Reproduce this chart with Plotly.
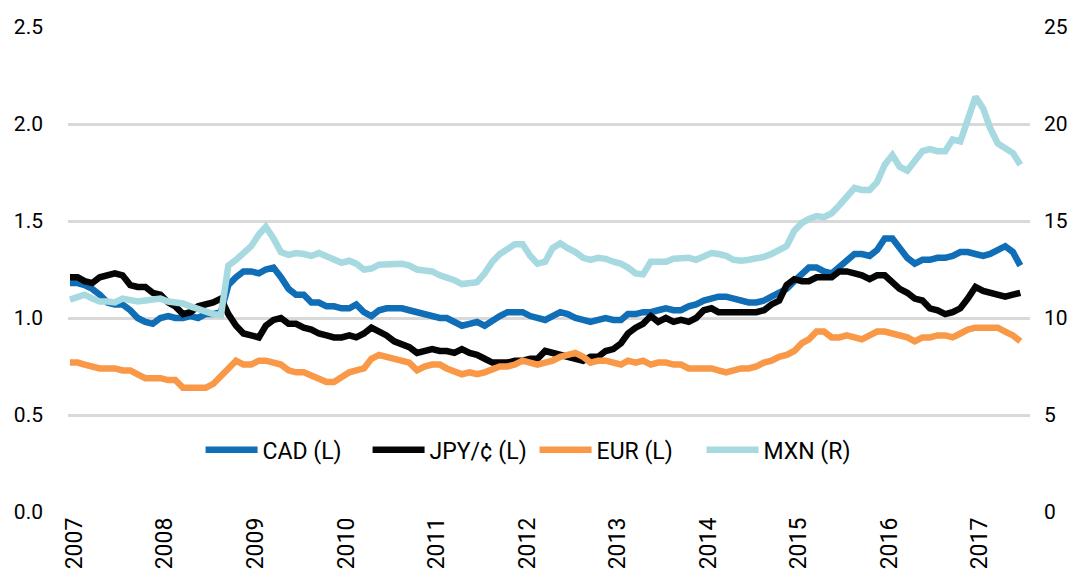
import pandas as pd
import plotly.graph_objects as go

months = pd.date_range("2007-01-01", periods=127, freq="MS")
years = [str(y) for y in range(2007, 2018)]
year_ticks = [f"{y}-01-19" for y in years]

cad = [1.18, 1.18, 1.17, 1.15, 1.12, 1.08, 1.07, 1.07, 1.04, 1.00, 0.98, 0.97,
       1.00, 1.01, 1.00, 1.00, 1.01, 1.00, 1.02, 1.02, 1.03, 1.17, 1.21, 1.24,
       1.24, 1.23, 1.25, 1.26, 1.21, 1.15, 1.12, 1.12, 1.08, 1.08, 1.06, 1.06,
       1.05, 1.05, 1.07, 1.03, 1.01, 1.04, 1.05, 1.05, 1.05, 1.04, 1.03, 1.02,
       1.01, 1.00, 1.00, 0.98, 0.96, 0.97, 0.98, 0.96, 0.99, 1.01, 1.03, 1.03,
       1.03, 1.01, 1.00, 0.99, 1.01, 1.03, 1.02, 1.00, 0.99, 0.98, 0.99, 1.00,
       0.99, 0.99, 1.02, 1.02, 1.03, 1.03, 1.04, 1.05, 1.04, 1.04, 1.06, 1.07,
       1.09, 1.10, 1.11, 1.11, 1.10, 1.09, 1.08, 1.08, 1.09, 1.11, 1.13, 1.15,
       1.19, 1.23, 1.26, 1.26, 1.24, 1.23, 1.26, 1.30, 1.33, 1.33, 1.32, 1.35,
       1.41, 1.41, 1.36, 1.31, 1.28, 1.30, 1.30, 1.31, 1.31, 1.32, 1.34, 1.34,
       1.33, 1.32, 1.33, 1.35, 1.37, 1.34, 1.27]

jpy = [1.21, 1.21, 1.19, 1.18, 1.21, 1.22, 1.23, 1.22, 1.17, 1.16, 1.16, 1.13,
       1.12, 1.08, 1.06, 1.02, 1.03, 1.06, 1.07, 1.08, 1.10, 1.02, 0.96, 0.92,
       0.91, 0.90, 0.96, 0.99, 1.00, 0.97, 0.97, 0.95, 0.94, 0.92, 0.91, 0.90,
       0.90, 0.91, 0.90, 0.92, 0.95, 0.93, 0.91, 0.88, 0.86, 0.85, 0.82, 0.83,
       0.84, 0.83, 0.83, 0.82, 0.84, 0.82, 0.81, 0.79, 0.77, 0.77, 0.77, 0.78,
       0.78, 0.79, 0.79, 0.83, 0.82, 0.81, 0.80, 0.79, 0.78, 0.80, 0.80, 0.83,
       0.84, 0.87, 0.92, 0.95, 0.97, 1.01, 0.98, 1.00, 0.98, 0.99, 0.98, 1.00,
       1.04, 1.05, 1.03, 1.03, 1.03, 1.03, 1.03, 1.03, 1.04, 1.07, 1.09, 1.17,
       1.20, 1.19, 1.19, 1.21, 1.21, 1.21, 1.24, 1.24, 1.23, 1.22, 1.20, 1.22,
       1.22, 1.18, 1.15, 1.13, 1.10, 1.09, 1.05, 1.04, 1.02, 1.03, 1.05, 1.10,
       1.16, 1.14, 1.13, 1.12, 1.11, 1.12, 1.13]

eur = [0.77, 0.77, 0.76, 0.75, 0.74, 0.74, 0.74, 0.73, 0.73, 0.71, 0.69, 0.69,
       0.69, 0.68, 0.68, 0.64, 0.64, 0.64, 0.64, 0.66, 0.70, 0.75, 0.78, 0.76,
       0.76, 0.78, 0.78, 0.77, 0.76, 0.73, 0.72, 0.72, 0.70, 0.69, 0.67, 0.67,
       0.70, 0.72, 0.73, 0.74, 0.79, 0.81, 0.80, 0.79, 0.78, 0.77, 0.73, 0.75,
       0.76, 0.76, 0.74, 0.72, 0.71, 0.72, 0.71, 0.72, 0.74, 0.75, 0.75, 0.76,
       0.78, 0.77, 0.76, 0.77, 0.78, 0.80, 0.81, 0.82, 0.80, 0.77, 0.78, 0.78,
       0.77, 0.76, 0.78, 0.77, 0.78, 0.76, 0.77, 0.77, 0.76, 0.76, 0.74, 0.74,
       0.74, 0.74, 0.73, 0.72, 0.73, 0.74, 0.74, 0.75, 0.77, 0.78, 0.80, 0.81,
       0.83, 0.87, 0.89, 0.93, 0.93, 0.90, 0.90, 0.91, 0.90, 0.89, 0.91, 0.93,
       0.93, 0.92, 0.91, 0.90, 0.88, 0.90, 0.90, 0.91, 0.91, 0.90, 0.92, 0.94,
       0.95, 0.95, 0.95, 0.95, 0.93, 0.91, 0.88]

mxn = [10.95, 11.1, 11.2, 11.0, 10.85, 10.85, 10.8, 11.0, 10.95, 10.85, 10.9, 10.95,
       11.0, 10.85, 10.8, 10.75, 10.6, 10.45, 10.3, 10.2, 10.15, 12.7, 13.0, 13.3,
       13.7, 14.3, 14.7, 14.1, 13.4, 13.25, 13.35, 13.3, 13.2, 13.35, 13.15, 13.0,
       12.85, 12.95, 12.8, 12.5, 12.55, 12.75, 12.75, 12.8, 12.8, 12.7, 12.5, 12.45,
       12.4, 12.2, 12.1, 11.95, 11.75, 11.8, 11.85, 12.3, 12.9, 13.3, 13.6, 13.8,
       13.8, 13.2, 12.8, 12.9, 13.6, 13.85, 13.6, 13.4, 13.1, 13.0, 13.1, 13.05,
       12.9, 12.8, 12.6, 12.3, 12.25, 12.9, 12.9, 12.9, 13.05, 13.1, 13.1, 13.0,
       13.2, 13.35, 13.3, 13.2, 13.0, 12.95, 13.0, 13.05, 13.15, 13.3, 13.55, 13.7,
       14.5, 14.9, 15.1, 15.25, 15.2, 15.4, 15.8, 16.3, 16.7, 16.6, 16.6, 17.0,
       17.9, 18.4, 17.8, 17.6, 18.1, 18.6, 18.7, 18.6, 18.6, 19.2, 19.1, 20.3,
       21.4, 20.8, 19.8, 19.0, 18.8, 18.5, 17.9]

series = [
    ("CAD (L)", cad, "#106EB7", "y"),
    ("JPY/¢ (L)", jpy, "#050505", "y"),
    ("EUR (L)", eur, "#F99847", "y"),
    ("MXN (R)", mxn, "#A6D9E0", "y2"),
]

fig = go.Figure()
for name, vals, color, ax in series:
    fig.add_trace(go.Scatter(x=months, y=vals, name=name, mode="lines",
                             line=dict(color=color, width=6.5), yaxis=ax))

fig.update_layout(
    width=1081, height=583,
    margin=dict(l=68, r=51, t=27, b=71),
    paper_bgcolor="white", plot_bgcolor="white",
    font=dict(family="Roboto", size=21, color="#000000"),
    showlegend=True,
    legend=dict(orientation="h", x=0.485, xanchor="center", y=0.128, yanchor="middle",
                font=dict(size=23), bgcolor="rgba(0,0,0,0)", itemwidth=52,
                entrywidth=100, entrywidthmode="pixels",
                traceorder="normal"),
    xaxis=dict(type="date", range=["2006-12-24", "2017-08-09"],
               tickvals=year_ticks, ticktext=years, tickangle=-90,
               tickfont=dict(size=23),
               showgrid=False, showline=False, zeroline=False, ticks=""),
    yaxis=dict(range=[0, 2.5], dtick=0.5, tickformat=".1f", showgrid=True,
               gridcolor="#D9D9D9", gridwidth=2.5, zeroline=False, showline=False,
               ticklabelstandoff=24),
    yaxis2=dict(range=[0, 25], dtick=5, overlaying="y", side="right",
                showgrid=False, zeroline=False, showline=False,
                ticklabelstandoff=13),
)

fig.write_html("out.html", config={"displayModeBar": False},
               post_script="document.body.style.margin='0px';document.body.style.overflow='hidden';")
